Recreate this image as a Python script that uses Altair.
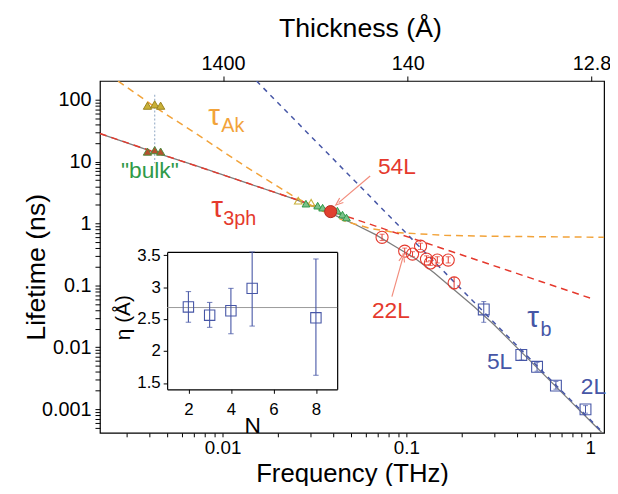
import altair as alt
import pandas as pd

FONT = "Liberation Sans"
ORANGE = "#f2a33a"
RED = "#e5392d"
GREEN = "#2f9a48"
BLUE = "#4656a6"
GRAY = "#7d7d7d"
OLIVE = "#c9b037"

# ---------------- tick values ----------------
x_ticks = [0.003, 0.004, 0.005, 0.006, 0.007, 0.008, 0.009,
           0.01, 0.02, 0.03, 0.04, 0.05, 0.06, 0.07, 0.08, 0.09,
           0.1, 0.2, 0.3, 0.4, 0.5, 0.6, 0.7, 0.8, 0.9, 1]
x_major = [0.01, 0.1, 1]
x_major_labels = ["0.01", "0.1", "1"]
y_ticks = [0.0005, 0.0006, 0.0007, 0.0008, 0.0009,
           0.001, 0.002, 0.003, 0.004, 0.005, 0.006, 0.007, 0.008, 0.009,
           0.01, 0.02, 0.03, 0.04, 0.05, 0.06, 0.07, 0.08, 0.09,
           0.1, 0.2, 0.3, 0.4, 0.5, 0.6, 0.7, 0.8, 0.9,
           1, 2, 3, 4, 5, 6, 7, 8, 9,
           10, 20, 30, 40, 50, 60, 70, 80, 90, 100]
y_major = [0.001, 0.01, 0.1, 1, 10, 100]
y_major_labels = ["0.001", "0.01", "0.1", "1", "10", "100"]
top_ticks = [0.01005, 0.1016, 1.016]
top_labels = ["1400", "140", "12.8"]

# ---------------- curves (frequency THz, lifetime ns) ----------------
ak_f = [0.0027, 0.00427, 0.00728, 0.0135, 0.0251, 0.0364, 0.0466, 0.0635, 0.0865, 0.1607, 0.298, 1.21]
ak_tau = [200, 76.7, 27.4, 8.14, 2.60, 1.50, 1.08, 0.832, 0.718, 0.643, 0.620, 0.598]

ph_f = [0.00215, 0.00427, 0.0135, 0.0466, 0.1607, 0.554, 1.0]
ph_tau = [28.4, 14.2, 4.54, 1.32, 0.386, 0.1125, 0.0622]

b_f = [0.0153, 0.0865, 0.298, 1.21]
b_tau = [200, 1.07, 0.0256, 0.00038]

tot_f = [0.00215, 0.00427, 0.00728, 0.0135, 0.0251, 0.0412, 0.0527, 0.0676, 0.0865, 0.1108,
         0.1420, 0.1818, 0.2330, 0.298, 0.3822, 0.4896, 0.6270, 0.8030, 1.0289, 1.209]
tot_tau = [28.4, 14.1, 8.44, 4.52, 2.42, 1.342, 0.964, 0.667, 0.429, 0.276,
           0.159, 0.0851, 0.0455, 0.0235, 0.01125, 0.00539, 0.00258, 0.001238, 0.000593, 0.000368]

# ---------------- measured points ----------------
rc_f = [0.0737, 0.0979, 0.108, 0.1194, 0.1286, 0.135, 0.1473, 0.1689, 0.1818]
rc_tau = [0.598, 0.357, 0.320, 0.429, 0.266, 0.230, 0.256, 0.256, 0.110]
rc_lo = [0.53, 0.32, 0.29, 0.38, 0.24, 0.21, 0.23, 0.23, 0.088]
rc_hi = [0.67, 0.40, 0.35, 0.48, 0.30, 0.25, 0.29, 0.29, 0.135]

bs_f = [0.2636, 0.422, 0.514, 0.651, 0.943]
bs_tau = [0.0408, 0.0075, 0.00483, 0.0024, 0.00099]
bs_lo = [0.0253, 0.0062, 0.0041, 0.0021, 0.00086]
bs_hi = [0.0547, 0.0090, 0.0057, 0.0028, 0.00114]

gt_f = [0.0284, 0.0329, 0.0350, 0.0421, 0.0449, 0.0472]
gt_tau = [2.09, 1.94, 1.80, 1.61, 1.39, 1.25]
yt_f = [0.0258, 0.0303]
yt_tau = [2.33, 2.16]
l54_f = [0.0387]
l54_tau = [1.555]

bulk_f = [0.0039, 0.00427, 0.0046]
bulk_ak_tau = [80, 84, 80]
bulk_ph_tau = [14.5, 15.3, 14.5]
bulk_line_f = [0.00427, 0.00427]
bulk_line_tau = [120, 9.4]

# ---------------- annotations ----------------
tau_labels = ["τ", "τ", "τ"]
tau_series = ["Ak", "3ph", "b"]
tau_f = [0.00898, 0.00934, 0.4896]
tau_tau = [55.1, 1.80, 0.0293]
sub_labels = ["Ak", "3ph", "b"]
sub_f = [0.01136, 0.0124, 0.5754]
sub_tau = [36.8, 1.20, 0.01883]
ann_labels = ['"bulk"', "54L", "22L", "5L", "2L"]
ann_series = ["bulk", "3ph", "3ph", "b", "b"]
ann_f = [0.00402, 0.0887, 0.0823, 0.3215, 1.0416]
ann_tau = [7.03, 8.14, 0.0379, 0.00580, 0.00231]

arr54_f = [0.0635]; arr54_tau = [5.85]; arr54_tf = [0.0428]; arr54_ttau = [2.17]
arr22_f = [0.0834]; arr22_tau = [0.0658]; arr22_tf = [0.0955]; arr22_ttau = [0.276]

# ---------------- inset ----------------
N_vals = [2, 3, 4, 5, 8]
eta_vals = [2.69, 2.56, 2.63, 2.98, 2.52]
eta_lo = [2.45, 2.37, 2.27, 2.39, 1.62]
eta_hi = [2.93, 2.76, 2.98, 3.55, 3.44]
eta_mean = [2.68]
inset_x_domain = [1, 9]
inset_y_domain = [1.4, 3.55]
inset_x_ticks = [2, 4, 6, 8]
inset_y_ticks = [1.5, 2, 2.5, 3, 3.5]

# =====================================================================
XS = alt.Scale(type="log", domain=[0.00215, 1.19], nice=False)
YS = alt.Scale(type="log", domain=[0.000414, 201], nice=False)
NX = alt.Scale(domain=inset_x_domain, range=[68, 240], nice=False, zero=False)
NY = alt.Scale(domain=inset_y_domain, range=[312, 173], nice=False, zero=False)


def lookup_expr(vals, labels):
    v = "[" + ",".join(repr(x) for x in vals) + "]"
    l = "[" + ",".join("'" + s + "'" for s in labels) + "]"
    return f"indexof({v}, datum.value) >= 0 ? {l}[indexof({v}, datum.value)] : ''"


AX = dict(labelFont=FONT, titleFont=FONT, labelColor="black", titleColor="black",
          tickColor="black", grid=False, labelOverlap=False, labelFlush=False,
          titleFontWeight="normal")


def X(field="f", axis=None):
    return alt.X(f"{field}:Q", scale=XS, axis=axis)


def Y(field="tau", axis=None):
    return alt.Y(f"{field}:Q", scale=YS, axis=axis)


def df(**kw):
    return pd.DataFrame(kw)


def line(f, tau, color, dash=None, width=1.4, xaxis=None, yaxis=None):
    kw = dict(color=color, strokeWidth=width, clip=True)
    if dash:
        kw["strokeDash"] = dash
    return alt.Chart(df(f=f, tau=tau)).mark_line(**kw).encode(x=X(axis=xaxis), y=Y(axis=yaxis))


bottom_axis = alt.Axis(orient="bottom", values=x_ticks, labelExpr=lookup_expr(x_major, x_major_labels),
                       labelFontSize=19, labelPadding=2, tickSize=4, domain=False,
                       title="Frequency (THz)", titleFontSize=26, titleBaseline="middle", titleY=41, **AX)
left_axis = alt.Axis(orient="left", values=y_ticks, labelExpr=lookup_expr(y_major, y_major_labels),
                     labelFontSize=20, labelPadding=4, tickSize=5, domain=False,
                     title="Lifetime (ns)", titleFontSize=27, titleBaseline="middle",
                     titleX=-64, titleY=188, **AX)
top_axis = alt.Axis(orient="top", values=top_ticks, labelExpr=lookup_expr(top_ticks, top_labels),
                    labelFontSize=20, labelPadding=3, tickSize=5, domain=False,
                    title="Thickness (Å)", titleFontSize=27, titleBaseline="middle",
                    titleX=263, titleY=-53, **AX)

layers = []
layers.append(line(tot_f, tot_tau, GRAY, None, 1.3, bottom_axis, left_axis))
layers.append(alt.Chart(df(f=top_ticks)).mark_point(opacity=0).encode(x=X(axis=top_axis), y=alt.value(0)))
layers.append(line(b_f, b_tau, BLUE, [5, 5], 1.5))
layers.append(line(ak_f, ak_tau, ORANGE, [7, 5], 1.5))
layers.append(line(ph_f, ph_tau, RED, [7, 5], 1.5))

# bulk dotted connector
layers.append(alt.Chart(df(f=bulk_line_f, tau=bulk_line_tau)).mark_line(
    color="#9fb4cc", strokeDash=[2, 2], strokeWidth=1.2).encode(x=X(), y=Y()))

# error bars
layers.append(alt.Chart(df(f=rc_f, lo=rc_lo, hi=rc_hi)).mark_rule(color=RED, strokeWidth=1).encode(
    x=X(), y=Y("lo"), y2="hi:Q"))
layers.append(alt.Chart(df(f=bs_f, lo=bs_lo, hi=bs_hi)).mark_rule(color=BLUE, strokeWidth=1).encode(
    x=X(), y=Y("lo"), y2="hi:Q"))
for fld in ["lo", "hi"]:
    layers.append(alt.Chart(df(f=rc_f, lo=rc_lo, hi=rc_hi)).mark_point(
        shape="stroke", size=25, color=RED, strokeWidth=1).encode(x=X(), y=Y(fld)))
    layers.append(alt.Chart(df(f=bs_f, lo=bs_lo, hi=bs_hi)).mark_point(
        shape="stroke", size=25, color=BLUE, strokeWidth=1).encode(x=X(), y=Y(fld)))

# markers
layers.append(alt.Chart(df(f=rc_f, tau=rc_tau)).mark_point(
    shape="circle", size=150, filled=False, color=RED, strokeWidth=1.1, opacity=1).encode(x=X(), y=Y()))
layers.append(alt.Chart(df(f=bs_f, tau=bs_tau)).mark_point(
    shape="square", size=120, filled=False, color=BLUE, strokeWidth=1.1, opacity=1).encode(x=X(), y=Y()))
layers.append(alt.Chart(df(f=yt_f, tau=yt_tau)).mark_point(
    shape="triangle-up", size=60, filled=False, color=OLIVE, strokeWidth=1.1, opacity=1).encode(x=X(), y=Y()))
layers.append(alt.Chart(df(f=gt_f, tau=gt_tau)).mark_point(
    shape="triangle-up", size=60, filled=True, fill="#7cc08a", stroke=GREEN, strokeWidth=1,
    opacity=1).encode(x=X(), y=Y()))
layers.append(alt.Chart(df(f=l54_f, tau=l54_tau)).mark_point(
    shape="circle", size=150, filled=True, fill="#e0402e", stroke="#b02a20", strokeWidth=1,
    opacity=1).encode(x=X(), y=Y()))
layers.append(alt.Chart(df(f=bulk_f, tau=bulk_ak_tau)).mark_point(
    shape="triangle-up", size=70, filled=True, fill=OLIVE, stroke="#9a8420", strokeWidth=1,
    opacity=1).encode(x=X(), y=Y()))
layers.append(alt.Chart(df(f=bulk_f, tau=bulk_ph_tau)).mark_point(
    shape="triangle-up", size=70, filled=True, fill="#b5502e", stroke="#4d8a3a", strokeWidth=1,
    opacity=1).encode(x=X(), y=Y()))

# arrows
ARROW = "#f28c7c"
for sf, st, tf, tt, ang in [(arr54_f, arr54_tau, arr54_tf, arr54_ttau, 230),
                            (arr22_f, arr22_tau, arr22_tf, arr22_ttau, 16)]:
    layers.append(alt.Chart(df(f=sf, tau=st, f2=tf, tau2=tt)).mark_rule(color=ARROW, strokeWidth=1.2).encode(
        x=X(), y=Y(), x2="f2:Q", y2="tau2:Q"))
    layers.append(alt.Chart(df(f=tf, tau=tt)).mark_point(
        shape="M-0.7,0.9L0,-0.9L0.7,0.9", size=70, filled=False, color=ARROW, strokeWidth=1.2,
        angle=ang, opacity=1).encode(x=X(), y=Y()))

# texts
color_enc = alt.Color("series:N", scale=alt.Scale(domain=["Ak", "3ph", "bulk", "b"],
                                                  range=[ORANGE, RED, GREEN, BLUE]), legend=None)
layers.append(alt.Chart(df(f=tau_f, tau=tau_tau, label=tau_labels, series=tau_series)).mark_text(
    font=FONT, fontSize=30, align="center", baseline="middle").encode(
    x=X(), y=Y(), text="label:N", color=color_enc))
layers.append(alt.Chart(df(f=sub_f, tau=sub_tau, label=sub_labels, series=tau_series)).mark_text(
    font=FONT, fontSize=20, align="center", baseline="middle").encode(
    x=X(), y=Y(), text="label:N", color=color_enc))
layers.append(alt.Chart(df(f=ann_f, tau=ann_tau, label=ann_labels, series=ann_series)).mark_text(
    font=FONT, fontSize=23, align="center", baseline="middle").encode(
    x=X(), y=Y(), text="label:N", color=color_enc))

# ---------------- inset ----------------
IAX = dict(AX, domainColor="black", domainWidth=1.2)
ins = df(N=N_vals, eta=eta_vals, lo=eta_lo, hi=eta_hi)
layers.append(alt.Chart(df(x1=[inset_x_domain[0]], x2=[inset_x_domain[1]], eta=eta_mean)).mark_rule(
    color="#9a9a9a", strokeWidth=1).encode(
    x=alt.X("x1:Q", scale=NX, axis=None), x2="x2:Q", y=alt.Y("eta:Q", scale=NY, axis=None)))
layers.append(alt.Chart(ins).mark_rule(color=BLUE, strokeWidth=1.1).encode(
    x=alt.X("N:Q", scale=NX, axis=alt.Axis(orient="top", offset=-173, labels=False, ticks=False,
                                           title=None, **IAX)),
    y=alt.Y("lo:Q", scale=NY, axis=alt.Axis(orient="right", offset=-270, labels=False, ticks=False,
                                            title=None, **IAX)),
    y2="hi:Q"))
for fld in ["lo", "hi"]:
    layers.append(alt.Chart(ins).mark_point(shape="stroke", size=30, color=BLUE, strokeWidth=1.1).encode(
        x=alt.X("N:Q", scale=NX, axis=None), y=alt.Y(f"{fld}:Q", scale=NY, axis=None)))
layers.append(alt.Chart(ins).mark_point(shape="square", size=110, filled=False, color=BLUE,
                                        strokeWidth=1.1, opacity=1).encode(
    x=alt.X("N:Q", scale=NX, axis=alt.Axis(orient="bottom", offset=-44, values=inset_x_ticks, format="~g",
                                           labelFontSize=17, labelPadding=8, tickSize=4,
                                           title="N", titleFontSize=23, titleBaseline="middle",
                                           titleY=37, **IAX)),
    y=alt.Y("eta:Q", scale=NY, axis=alt.Axis(orient="left", offset=-68, values=inset_y_ticks, format="~g",
                                             labelFontSize=17, labelPadding=3, tickSize=4,
                                             title="η (Å)", titleFontSize=21, titleBaseline="middle",
                                             titleX=-44, titleY=239, **IAX))))

chart = alt.layer(*layers).resolve_scale(
    x="independent", y="independent", color="independent"
).properties(
    width=510, height=356,
    padding={"left": 93, "top": 71, "right": 6, "bottom": 51},
    autosize=alt.AutoSizeParams(type="none"),
    background="white",
).configure_view(stroke="black", strokeWidth=1.2).configure_text(font=FONT)

chart.save("out.html", embed_options={"renderer": "svg", "actions": False})
